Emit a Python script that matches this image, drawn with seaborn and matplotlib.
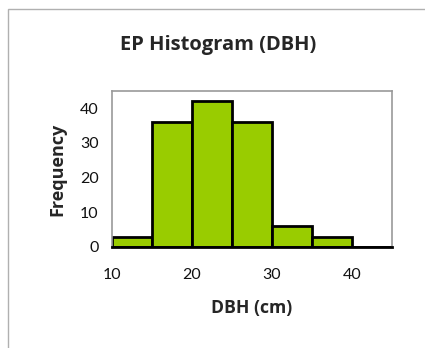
import numpy as np
import pandas as pd
import matplotlib
matplotlib.use("Agg")
import matplotlib.pyplot as plt
import seaborn as sns
from matplotlib.patches import Rectangle

bin_edges = [10, 15, 20, 25, 30, 35, 40, 45]
counts = [3, 36, 42, 36, 6, 3, 0]
y_ticks = [0, 10, 20, 30, 40]
x_ticks = [10, 20, 30, 40]

centers = [(a + b) / 2 for a, b in zip(bin_edges[:-1], bin_edges[1:])]
df = pd.DataFrame({"DBH": centers, "count": counts})

sns.set_style("white")
plt.rcParams['font.family'] = ['Lato', 'DejaVu Sans']
bold_font = ['Open Sans', 'DejaVu Sans']

fig = plt.figure(figsize=(4.25, 3.48), dpi=100)
ax = fig.add_axes([112/425, 1-247/348, 280/425, 156/348])

sns.histplot(data=df, x="DBH", weights="count", bins=bin_edges, ax=ax,
             color="#99CC00", alpha=1, edgecolor="black", linewidth=2.0)

ax.set_xlim(10, 45)
ax.set_ylim(0, 45)
ax.set_xticks(x_ticks)
ax.set_yticks(y_ticks)
ax.tick_params(axis='both', labelsize=11.5, colors='#111111', length=4, width=1)
ax.tick_params(axis='x', direction='out', color='#888888', pad=11)
ax.tick_params(axis='y', direction='inout', color='#888888', length=7, pad=6)
for s in ['top', 'right', 'left']:
    ax.spines[s].set_color('#999999')
    ax.spines[s].set_linewidth(1.2)
ax.spines['bottom'].set_color('black')
ax.spines['bottom'].set_linewidth(2)

ax.set_xlabel("DBH (cm)", fontsize=12.7, fontweight='bold', family=bold_font,
              labelpad=12)
ax.set_ylabel("Frequency", fontsize=13, fontweight='bold', family=bold_font,
              labelpad=10)
fig.text(218/425, 1-45/348, "EP Histogram (DBH)", fontsize=14.5, fontweight='bold',
         family=bold_font, ha='center', va='center')

fig.patches.append(Rectangle((8/425, -0.1), 1.2, 1 - 9/348 + 0.1,
                             transform=fig.transFigure, fill=False,
                             edgecolor='#b0b0b0', linewidth=1.0))

fig.savefig("out.png", dpi=100, facecolor='white')
